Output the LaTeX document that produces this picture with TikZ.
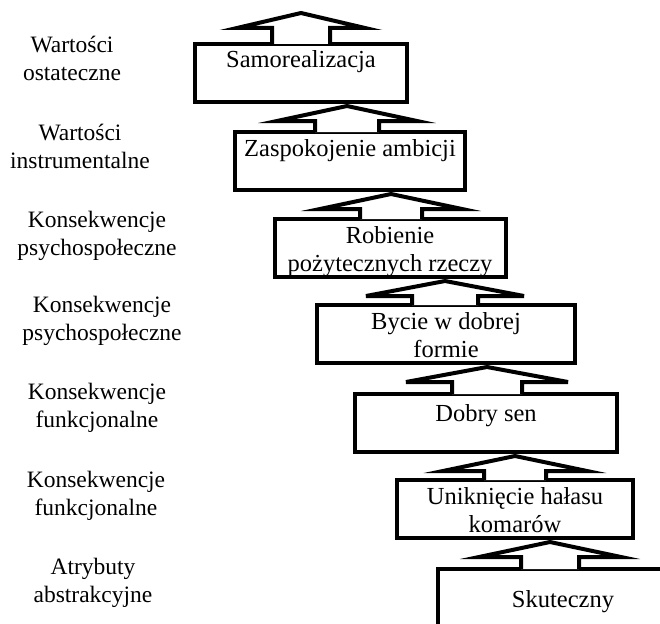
\documentclass[tikz,border=0pt]{standalone}
\usepackage{fontspec}
\setmainfont{Liberation Serif}
\usetikzlibrary{calc}
\begin{document}
\begin{tikzpicture}[x=1pt, y=-1pt,
    every node/.style ={font=\fontsize{24.5}{28}\selectfont},
    rung/.style ={draw, line width=4pt, fill=white, inner sep=0pt, anchor=north,
      align=center, text height=24pt, text depth=34pt},
    rungtwo/.style ={rung, text height=52pt, text depth=6pt},
    level/.style ={align=center, anchor=base, font=\fontsize{23.5}{28}\selectfont},
    lift/.style ={draw, line width=4pt, fill=white, line join=miter}]
   \useasboundingbox (0,0) rectangle (660,623);
   \node[rung, minimum width=212pt] (b1) at (301,42) {Samorealizacja};
   \node[rung, minimum width=230pt] (b2) at (350,130) {Zaspokojenie ambicji};
   \node[rungtwo, minimum width=231pt] (b3) at (390,217) {Robienie\\pożytecznych rzeczy};
   \node[rungtwo, minimum width=258pt] (b4) at (446,303) {Bycie w dobrej\\formie};
   \node[rung, minimum width=262pt, text height=27pt, text depth=31pt] (b5) at (486,392) {Dobry sen};
   \node[rungtwo, minimum width=236pt] (b6) at (515,478) {Uniknięcie hałasu\\komarów};
   \node[rung, minimum width=250pt, text height=38pt, text depth=50pt] (b7) at (563,567) {Skuteczny};
   \coordinate (top) at (300,11);
   \foreach \lo/\up/\dx/\s/\h in {b1/top/0/29/64, b2/b1.south/-3/32/70, b3/b2.south/1/31/71,
       b4/b3.south/-1/33/79, b5/b4.south/1/35/81, b6/b5.south/0/31/72, b7/b6.south/-13/29/71}
     \draw[lift] ($(\lo.north)+(\dx-\s,2)$) |- ($(\lo.north |- \up)+(\dx-\h,17)$)
       -- ($(\lo.north |- \up)+(\dx,2)$) -- ($(\lo.north |- \up)+(\dx+\h,17)$)
       -| ($(\lo.north)+(\dx+\s,2)$);
   \node[level] (l1) at (72,81) {Wartości\\ostateczne};
   \node[level] (l2) at (80,168) {Wartości\\instrumentalne};
   \node[level] (l3) at (97,255) {Konsekwencje\\psychospołeczne};
   \node[level] (l4) at (102,340) {Konsekwencje\\psychospołeczne};
   \node[level] (l5) at (97,427) {Konsekwencje\\funkcjonalne};
   \node[level] (l6) at (96,515) {Konsekwencje\\funkcjonalne};
   \node[level] (l7) at (93,602) {Atrybuty\\abstrakcyjne};
\end{tikzpicture}
\end{document}
